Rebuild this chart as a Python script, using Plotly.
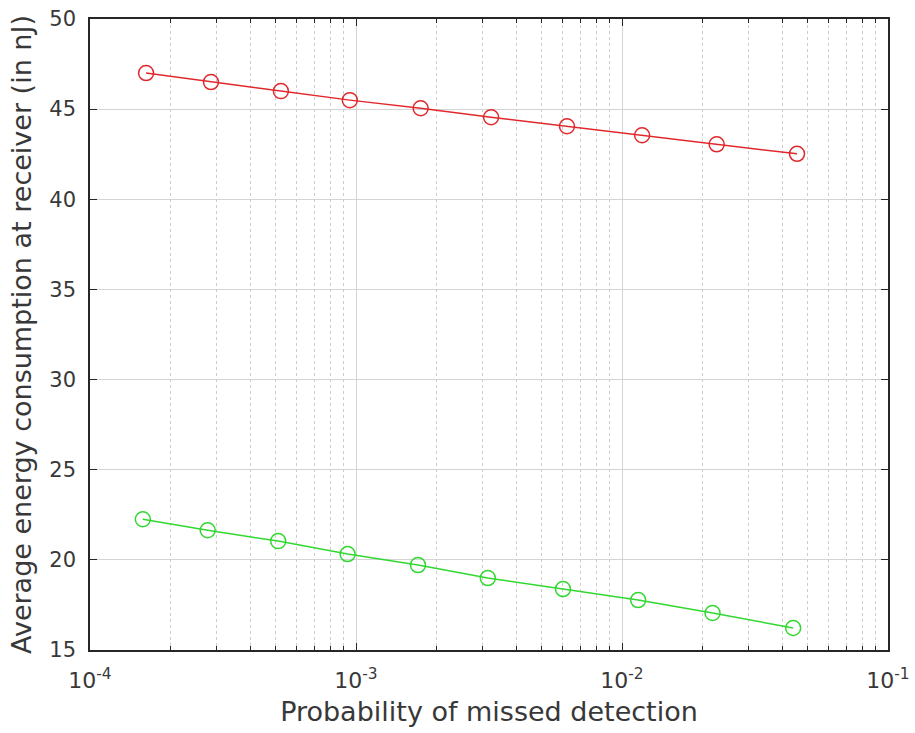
import plotly.graph_objects as go

red_x = [1.625e-4, 2.85e-4, 5.22e-4, 9.48e-4, 1.75e-3, 3.22e-3, 6.21e-3, 1.19e-2, 2.27e-2, 4.55e-2]
red_y = [47.0, 46.5, 46.0, 45.5, 45.05, 44.55, 44.05, 43.55, 43.05, 42.52]
green_x = [1.58e-4, 2.77e-4, 5.1e-4, 9.3e-4, 1.71e-3, 3.13e-3, 6.0e-3, 1.15e-2, 2.19e-2, 4.4e-2]
green_y = [22.25, 21.64, 21.04, 20.32, 19.71, 18.99, 18.38, 17.77, 17.05, 16.22]
x_tickvals = [1e-4, 1e-3, 1e-2, 1e-1]
x_ticktext = ["10<sup>-4</sup>", "10<sup>-3</sup>", "10<sup>-2</sup>", "10<sup>-1</sup>"]
y_tickvals = [15, 20, 25, 30, 35, 40, 45, 50]

fig = go.Figure()
fig.add_trace(go.Scatter(x=red_x, y=red_y, mode="lines+markers",
                         line=dict(color="#e0282c", width=1.5),
                         marker=dict(symbol="circle-open", size=15, color="#e0282c", line=dict(width=1.5)),
                         showlegend=False))
fig.add_trace(go.Scatter(x=green_x, y=green_y, mode="lines+markers",
                         line=dict(color="#30d830", width=1.5),
                         marker=dict(symbol="circle-open", size=15, color="#30d830", line=dict(width=1.5)),
                         showlegend=False))

font = dict(family="DejaVu Sans", size=21, color="#383838")
fig.update_layout(
    width=915, height=733,
    margin=dict(l=90, r=27, t=19, b=83),
    paper_bgcolor="white", plot_bgcolor="white",
    font=font,
    xaxis=dict(type="log", range=[-4, -1], tickvals=x_tickvals, ticktext=x_ticktext,
               automargin=False, ticklabelstandoff=10,
               showline=True, linecolor="#262626", linewidth=1.5, mirror="allticks",
               ticks="inside", ticklen=7, tickcolor="#262626",
               showgrid=True, gridcolor="#d4d4d4", gridwidth=1,
               minor=dict(dtick="D1", ticks="inside", ticklen=4, tickcolor="#262626",
                          showgrid=True, gridcolor="#cccccc", griddash="dot", gridwidth=1),
               title=dict(text="Probability of missed detection", font=dict(size=27, color="#383838"), standoff=10),
               tickfont=dict(size=22), zeroline=False),
    yaxis=dict(range=[15, 50], tickvals=y_tickvals,
               automargin=False, ticklabelstandoff=8,
               showline=True, linecolor="#262626", linewidth=1.5, mirror="allticks",
               ticks="inside", ticklen=7, tickcolor="#262626",
               showgrid=True, gridcolor="#d4d4d4", gridwidth=1,
               title=dict(text="Average energy consumption at receiver (in nJ)", font=dict(size=27, color="#383838"), standoff=10),
               tickfont=dict(size=21), zeroline=False),
)
fig.write_html("out.html", config={"displayModeBar": False},
               post_script="document.body.style.margin='0';document.body.style.overflow='hidden';")
